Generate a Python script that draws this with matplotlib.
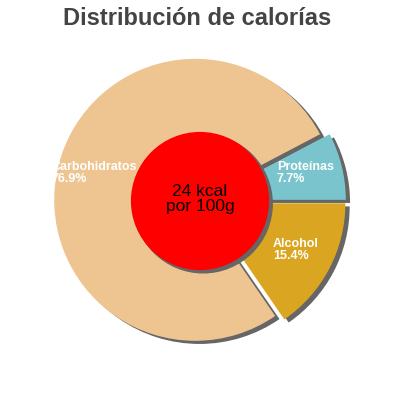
import numpy as np
import matplotlib.pyplot as plt
import matplotlib.patches as mpatches

plt.rcParams['font.family'] = ['Liberation Sans', 'DejaVu Sans']

categories = ['Proteínas', 'Carbohidratos', 'Alcohol']
percents = [7.7, 76.9, 15.4]
colors = ['#7AC5CD', '#EEC591', '#DAA520']
kcal = 24
title = 'Distribución de calorías'

fig = plt.figure(figsize=(4, 4), dpi=100)
ax = fig.add_axes([0, 0, 1, 1])

shadow = {'ox': 0.022, 'oy': -0.016, 'facecolor': '#666666',
          'edgecolor': '#666666', 'alpha': 1}
wedges, _ = ax.pie(percents, colors=colors, startangle=0, counterclock=True,
                   explode=[0.035] * 3, shadow=shadow, radius=1,
                   wedgeprops={'linewidth': 0})

# centre disc with its shadow
disc = mpatches.Circle((0, 0), 0.49, facecolor='#FF0000', edgecolor='none', zorder=5)
ax.add_patch(mpatches.Shadow(disc, 0.016, -0.014, facecolor='#666666',
                             edgecolor='#666666', alpha=1, zorder=4.5))
ax.add_patch(disc)
ax.text(0, 0.015, f'{kcal} kcal\npor 100g', ha='center', va='center',
        fontsize=12.5, color='black', linespacing=1.0, zorder=6)

# slice labels
label_pos = {'Proteínas': (0.546, 0.199, 'left'),
             'Carbohidratos': (-0.447, 0.199, 'right'),
             'Alcohol': (0.518, -0.344, 'left')}
for name, p in zip(categories, percents):
    x, y, ha = label_pos[name]
    ax.text(x, y, f'{name}\n{p}%', ha=ha, va='center', multialignment='left',
            fontsize=9, fontweight='bold', color='white', linespacing=1.0, zorder=6)

ax.set_xlim(-200 / 141, 200 / 141)
ax.set_ylim(-199 / 141, 201 / 141)
ax.set_aspect('auto')
ax.axis('off')

fig.text(0.494, 1 - 25 / 400, title, ha='center', va='baseline',
         fontsize=17, fontweight='bold', color='#444444')

fig.savefig('out.png', dpi=100)
